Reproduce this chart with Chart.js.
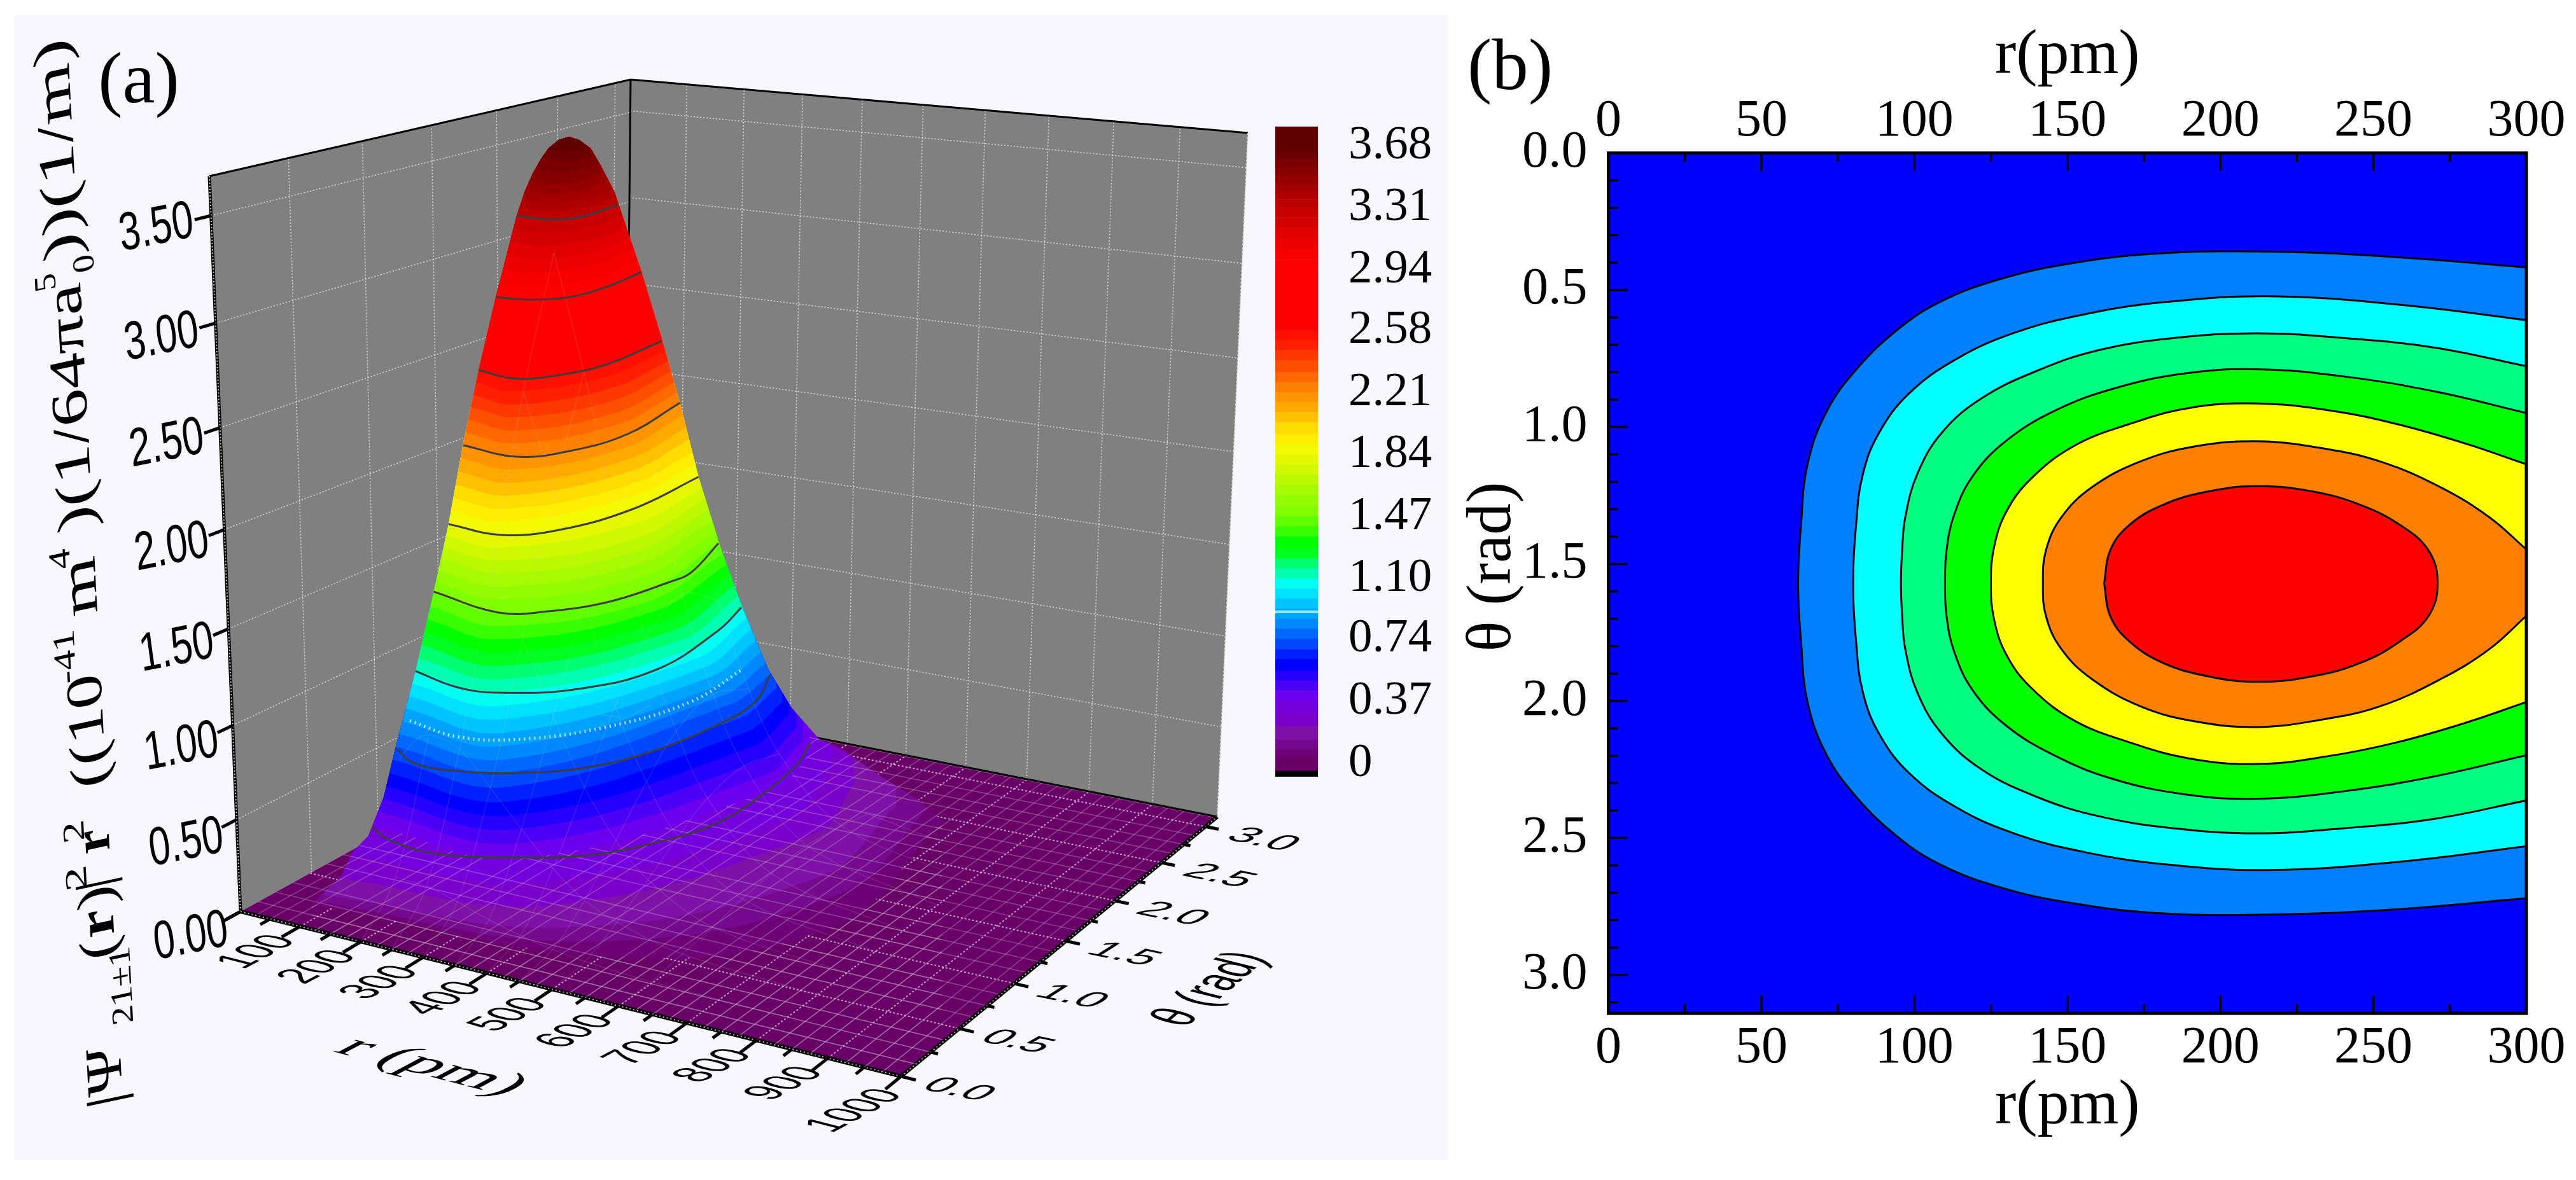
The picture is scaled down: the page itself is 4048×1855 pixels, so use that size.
<!DOCTYPE html>
<html>
<head>
<meta charset="utf-8">
<title>Psi 21 surface and contour</title>
<script src="https://cdn.jsdelivr.net/npm/chart.js@4/dist/chart.umd.min.js"></script>
<style>
  html, body { margin: 0; padding: 0; background: #fff; width: 4048px; height: 1855px; overflow: hidden; }
  #panelA { position: absolute; left: 22px; top: 24px; width: 2253px; height: 1800px; background: #f6f7ff; }
  canvas { position: absolute; }
  #surface { left: 22px; top: 24px; }
  #colorbar { left: 2004px; top: 109px; }
  #contour { left: 2275px; top: 0; }
</style>
</head>
<body>
<div id="panelA"></div>
<canvas id="surface" width="2253" height="1800"></canvas>
<canvas id="colorbar" width="266" height="1202"></canvas>
<canvas id="contour" width="1773" height="1855"></canvas>
<script>
// ---- panel (a): axis values
const rTicks = [100, 200, 300, 400, 500, 600, 700, 800, 900, 1000];
const rMinorTicks = [50, 150, 250, 350, 450, 550, 650, 750, 850, 950];
const thetaTicks = [0, 0.5, 1, 1.5, 2, 2.5, 3];
const thetaMinorTicks = [0.25, 0.75, 1.25, 1.75, 2.25, 2.75];
const zTicks = [0, 0.5, 1, 1.5, 2, 2.5, 3, 3.5];
const rMesh = [25, 50, 75, 125, 150, 175, 225, 250, 275, 325, 350, 375, 425, 450, 475, 525, 550, 575, 625, 650, 675, 725, 750, 775, 825, 850, 875, 925, 950, 975];
const thetaMesh = [0.125, 0.25, 0.375, 0.625, 0.75, 0.875, 1.125, 1.25, 1.375, 1.625, 1.75, 1.875, 2.125, 2.25, 2.375, 2.625, 2.75, 2.875, 3.125];
const rMax = 1000, thetaMax = 3.14, zMax = 3.68;

// projected corners of the 3D box
const cornerE = [378, 1433], cornerF = [1416, 1692], cornerD = [1913, 1284], cornerG = [981, 1100];
const cornerA = [329, 277], cornerB = [991, 125], cornerC = [1961, 209];
// wall height in picture units per z unit above each floor corner
const liftE = 314, liftF = 345, liftD = 292, liftG = 265;

// surface colour bands: z level, then its front arc as left / low / shoulder / right
const bandZ = [0.04, 0.08, 0.14, 0.22, 0.30, 0.37, 0.43, 0.49, 0.55, 0.62, 0.68, 0.74, 0.80, 0.86, 0.92, 0.98, 1.04, 1.10, 1.16, 1.22, 1.28, 1.35, 1.41, 1.47, 1.53, 1.60, 1.66, 1.72, 1.78, 1.84, 1.90, 1.96, 2.03, 2.09, 2.15, 2.21, 2.27, 2.33, 2.40, 2.46, 2.52, 2.58, 2.70, 2.82, 2.94, 3.00, 3.06, 3.12, 3.19, 3.25, 3.31, 3.36, 3.40, 3.45, 3.50, 3.55, 3.60, 3.64];
const bandColors = ['#6e0078', '#750a8e', '#7e12a8', '#7a00cc', '#7400de', '#6c00ee', '#4c00f6', '#2400ff', '#0000ff', '#0020ff', '#0048ff', '#0068ff', '#0088ff', '#00a4ff', '#00c4ff', '#00e0ff', '#00fff0', '#00ffb0', '#00ff70', '#00ff20', '#00ff00', '#38ff00', '#60ff00', '#80ff00', '#94fc00', '#a8fa00', '#bcf800', '#d0f800', '#e4f900', '#f4fb00', '#ffee00', '#ffdc00', '#ffc000', '#ffa800', '#ff9400', '#ff8000', '#ff6800', '#ff5000', '#ff3800', '#ff2000', '#ff1000', '#ff0000', '#ff0000', '#ff0000', '#ff0000', '#f80000', '#ee0000', '#e20000', '#d40000', '#c80000', '#bc0000', '#b00000', '#a40000', '#960000', '#880000', '#7a0000', '#6c0000', '#600000'];
const leftX = [490, 497, 510, 530, 555, 584, 590, 597, 603, 609, 615, 622, 627, 632, 638, 643, 648, 653, 657, 662, 667, 671, 676, 681, 685, 689, 693, 697, 701, 705, 709, 713, 716, 720, 724, 728, 732, 736, 740, 744, 748, 752, 761, 770, 779, 784, 790, 795, 801, 806, 812, 818, 824, 830, 836, 844, 852, 864];
const leftY = [1422, 1417, 1407, 1380, 1345, 1296, 1275, 1255, 1235, 1215, 1194, 1174, 1154, 1134, 1114, 1095, 1075, 1055, 1035, 1014, 994, 974, 953, 933, 915, 897, 878, 860, 842, 824, 803, 783, 762, 741, 720, 700, 680, 660, 640, 621, 601, 582, 544, 505, 467, 445, 424, 402, 381, 360, 339, 327, 315, 300, 285, 267, 248, 235];
const lowX = [986, 919, 885, 865, 840, 813, 810, 807, 803, 800, 797, 794, 792, 791, 789, 787, 785, 784, 784, 784, 784, 784, 784, 784, 784, 785, 785, 786, 787, 788, 792, 796, 800, 804, 808, 812, 811, 811, 810, 809, 808, 808, 815, 822, 829, 834, 840, 845, 851, 856, 862, 863, 865, 866, 868, 874, 880, 885];
const lowY = [1505, 1480, 1458, 1423, 1387, 1349, 1326, 1304, 1282, 1260, 1237, 1215, 1194, 1173, 1152, 1131, 1110, 1089, 1068, 1047, 1026, 1005, 984, 963, 942, 922, 901, 881, 861, 841, 820, 800, 779, 759, 738, 718, 697, 677, 656, 636, 615, 595, 554, 512, 471, 450, 429, 408, 387, 366, 345, 332, 320, 305, 290, 271, 252, 238];
const shoulderX = [1321, 1320, 1290, 1287, 1240, 1215, 1204, 1193, 1181, 1170, 1159, 1148, 1137, 1126, 1114, 1103, 1092, 1081, 1068, 1055, 1042, 1030, 1020, 1010, 1005, 1000, 998, 996, 995, 995, 992, 989, 987, 984, 981, 978, 974, 970, 966, 961, 957, 953, 948, 942, 937, 935, 934, 933, 931, 929, 928, 925, 923, 920, 918, 916, 915, 908];
const shoulderY = [1450, 1405, 1378, 1307, 1285, 1241, 1218, 1196, 1174, 1152, 1130, 1107, 1093, 1079, 1065, 1051, 1036, 1022, 1007, 992, 976, 960, 945, 930, 908, 888, 868, 848, 824, 800, 781, 762, 742, 723, 704, 685, 666, 648, 629, 610, 591, 573, 535, 496, 458, 437, 417, 397, 377, 356, 336, 324, 312, 298, 284, 267, 250, 236];
const rightX = [1480, 1462, 1408, 1341, 1310, 1272, 1261, 1251, 1240, 1230, 1220, 1210, 1202, 1195, 1187, 1180, 1172, 1165, 1159, 1153, 1147, 1141, 1135, 1129, 1125, 1120, 1115, 1110, 1106, 1101, 1095, 1090, 1085, 1080, 1074, 1069, 1064, 1059, 1054, 1050, 1045, 1040, 1030, 1020, 1010, 1004, 998, 992, 986, 980, 974, 968, 962, 956, 950, 943, 936, 925];
const rightY = [1290, 1267, 1267, 1233, 1200, 1186, 1165, 1144, 1123, 1103, 1082, 1061, 1043, 1026, 1008, 990, 972, 955, 938, 921, 904, 888, 871, 854, 836, 819, 801, 783, 766, 748, 729, 710, 690, 671, 652, 633, 617, 601, 584, 568, 552, 536, 500, 463, 427, 409, 391, 373, 356, 338, 321, 309, 298, 284, 270, 255, 240, 228];
const meshedBands = 5;

// contour lines on the surface, z = 0.37 upwards
const arc037X = [584, 611, 685, 818, 919, 1020, 1120, 1187, 1254, 1273];
const arc037Y = [1300, 1320, 1342, 1348, 1345, 1327, 1297, 1257, 1200, 1167];
const arc074X = [623, 651, 718, 818, 919, 1020, 1120, 1187, 1210];
const arc074Y = [1177, 1200, 1212, 1215, 1207, 1183, 1143, 1103, 1061];
const arc110X = [653, 717, 784, 909, 1033, 1129, 1165];
const arc110Y = [1055, 1080, 1089, 1083, 1052, 991, 955];
const arc147X = [681, 784, 861, 957, 1052, 1086, 1129];
const arc147Y = [930, 963, 961, 946, 915, 900, 854];
const arc184X = [705, 788, 879, 995, 1101];
const arc184Y = [824, 841, 833, 800, 748];
const arc221X = [728, 812, 895, 987, 1069];
const arc221Y = [700, 718, 709, 682, 633];
const arc258X = [752, 808, 870, 953, 1040];
const arc258Y = [582, 595, 591, 573, 536];
const arc294X = [779, 829, 895, 953, 1010];
const arc294Y = [467, 471, 467, 451, 427];
const arc331X = [812, 862, 912, 974];
const arc331Y = [339, 345, 341, 321];
const surfaceContours = [[arc037X, arc037Y], [arc074X, arc074Y], [arc110X, arc110Y], [arc147X, arc147Y], [arc184X, arc184Y], [arc221X, arc221Y], [arc258X, arc258Y], [arc294X, arc294Y], [arc331X, arc331Y]];

// outline of the surface as seen against the walls
const outlineX = [480, 490, 504, 537, 553, 579, 603, 622, 653, 681, 705, 728, 752, 779, 812, 825, 837, 850, 862, 878, 894, 910, 928, 945, 966, 985, 1007, 1040, 1069, 1098, 1132, 1165, 1207, 1244, 1287, 1321, 1388, 1440, 1480, 1480];
const outlineY = [1700, 1422, 1407, 1377, 1341, 1314, 1253, 1174, 1055, 933, 824, 697, 582, 467, 339, 300, 273, 250, 233, 220, 215, 220, 233, 262, 303, 360, 424, 533, 636, 751, 860, 951, 1052, 1113, 1162, 1177, 1223, 1255, 1290, 1700];
const speckleX = [644, 718, 818, 952, 1086, 1167];
const speckleY = [1133, 1158, 1162, 1143, 1103, 1052];

// height of the surface under the wire mesh: one row per theta, one column per r
const surfR = [50, 75, 100, 125, 150, 175, 200, 250, 300, 350, 400, 450, 500, 600];
const surfTheta = [0.25, 0.5, 0.75, 1, 1.25, 1.57, 1.89, 2.14, 2.39, 2.64, 2.89];
const surfZ = [
  [0.01, 0.05, 0.09, 0.14, 0.18, 0.21, 0.22, 0.21, 0.17, 0.12, 0.08, 0.05, 0.03, 0.01],
  [0.06, 0.18, 0.35, 0.53, 0.68, 0.79, 0.84, 0.80, 0.64, 0.47, 0.31, 0.19, 0.12, 0.04],
  [0.11, 0.36, 0.70, 1.07, 1.38, 1.59, 1.70, 1.61, 1.30, 0.94, 0.62, 0.39, 0.23, 0.07],
  [0.17, 0.55, 1.07, 1.63, 2.10, 2.43, 2.58, 2.46, 1.98, 1.44, 0.94, 0.59, 0.35, 0.11],
  [0.22, 0.69, 1.36, 2.07, 2.67, 3.09, 3.29, 3.12, 2.52, 1.83, 1.20, 0.76, 0.45, 0.14],
  [0.24, 0.77, 1.51, 2.30, 2.97, 3.43, 3.65, 3.47, 2.80, 2.03, 1.33, 0.84, 0.50, 0.16],
  [0.22, 0.69, 1.36, 2.07, 2.67, 3.09, 3.29, 3.12, 2.52, 1.83, 1.20, 0.76, 0.45, 0.14],
  [0.17, 0.55, 1.07, 1.63, 2.10, 2.43, 2.58, 2.46, 1.98, 1.44, 0.94, 0.59, 0.35, 0.11],
  [0.11, 0.36, 0.70, 1.07, 1.38, 1.59, 1.70, 1.61, 1.30, 0.94, 0.62, 0.39, 0.23, 0.07],
  [0.06, 0.18, 0.35, 0.53, 0.68, 0.79, 0.84, 0.80, 0.64, 0.47, 0.31, 0.19, 0.12, 0.04],
  [0.01, 0.05, 0.09, 0.14, 0.18, 0.21, 0.22, 0.21, 0.17, 0.12, 0.08, 0.05, 0.03, 0.01]
];

// ---- colour bar
const barTicks = [0, 0.37, 0.74, 1.10, 1.47, 1.84, 2.21, 2.58, 2.94, 3.31, 3.68];
const barLabels = ['0', '0.37', '0.74', '1.10', '1.47', '1.84', '2.21', '2.58', '2.94', '3.31', '3.68'];

// ---- panel (b): contour lines, r in pm and theta in rad
const rBottomTicks = [25, 50, 75, 100, 125, 150, 175, 200, 225, 250, 275];
const thetaLeftMinor = [0.1, 0.2, 0.3, 0.4, 0.6, 0.7, 0.8, 0.9, 1.1, 1.2, 1.3, 1.4, 1.6, 1.7, 1.8, 1.9, 2.1, 2.2, 2.3, 2.4, 2.6, 2.7, 2.8, 2.9, 3.1];
const thetaLeftMajor = [0.5, 1, 1.5, 2, 2.5, 3];
const contourColors = ['#0080ff', '#00ffff', '#00ff80', '#00ff00', '#ffff00', '#ff8000', '#ff0000'];
const line1R = [300, 255, 212, 178, 150, 128, 109, 95, 81, 71, 65, 63, 62, 63, 65, 71, 81, 95, 109, 128, 150, 178, 212, 255, 300];
const line1T = [0.417, 0.378, 0.359, 0.368, 0.405, 0.46, 0.54, 0.64, 0.79, 0.95, 1.14, 1.35, 1.571, 1.79, 2.0, 2.19, 2.35, 2.5, 2.6, 2.68, 2.735, 2.773, 2.78, 2.762, 2.72];
const line2R = [300, 260, 216, 181, 155, 133, 114, 98, 88, 83, 81, 80, 81, 83, 88, 98, 114, 133, 155, 181, 216, 260, 300];
const line2T = [0.61, 0.555, 0.523, 0.545, 0.59, 0.655, 0.75, 0.88, 1.03, 1.18, 1.35, 1.571, 1.79, 1.96, 2.11, 2.26, 2.39, 2.485, 2.55, 2.595, 2.617, 2.585, 2.53];
const line3R = [300, 270, 240, 212, 185, 160, 140, 122, 109, 101, 97, 96, 95.6, 96, 97, 101, 109, 122, 140, 160, 185, 212, 240, 270, 300];
const line3T = [0.778, 0.71, 0.675, 0.658, 0.675, 0.72, 0.795, 0.895, 1.02, 1.17, 1.33, 1.45, 1.571, 1.69, 1.81, 1.97, 2.12, 2.25, 2.35, 2.42, 2.465, 2.483, 2.465, 2.43, 2.363];
const line4R = [300, 270, 240, 212, 188, 165, 146, 130, 119, 113, 110.5, 110, 110.5, 113, 119, 130, 146, 165, 188, 212, 240, 270, 300];
const line4T = [0.949, 0.87, 0.815, 0.789, 0.805, 0.86, 0.94, 1.05, 1.18, 1.32, 1.45, 1.571, 1.69, 1.82, 1.96, 2.09, 2.20, 2.285, 2.34, 2.357, 2.33, 2.275, 2.198];
const line5R = [300, 280, 258, 236, 212, 190, 170, 152, 138, 130, 126, 125, 126, 130, 138, 152, 170, 190, 212, 236, 258, 280, 300];
const line5T = [1.136, 1.06, 0.99, 0.94, 0.914, 0.93, 0.99, 1.07, 1.19, 1.31, 1.44, 1.571, 1.70, 1.83, 1.95, 2.07, 2.15, 2.21, 2.23, 2.20, 2.15, 2.08, 2.004];
const line6R = [300, 288, 272, 252, 232, 212, 192, 174, 158, 148, 143, 142, 143, 148, 158, 174, 192, 212, 232, 252, 272, 288, 300];
const line6T = [1.447, 1.33, 1.22, 1.125, 1.075, 1.052, 1.07, 1.125, 1.22, 1.33, 1.45, 1.571, 1.69, 1.81, 1.92, 2.02, 2.075, 2.095, 2.07, 2.02, 1.92, 1.81, 1.689];
const line7R = [162, 164, 170, 181, 196, 212, 230, 246, 259, 268, 271, 268, 259, 246, 230, 212, 196, 181, 170, 164, 162];
const line7T = [1.571, 1.45, 1.36, 1.285, 1.235, 1.216, 1.235, 1.285, 1.36, 1.45, 1.571, 1.69, 1.78, 1.86, 1.91, 1.93, 1.91, 1.86, 1.78, 1.69, 1.571];
const contourLines = [[line1R, line1T], [line2R, line2T], [line3R, line3T], [line4R, line4T], [line5R, line5T], [line6R, line6T], [line7R, line7T]];

const SERIF = '"Liberation Serif"';
const SANS = '"Liberation Sans"';

// perspective map from the unit square onto one face of the box
function faceMap(p00, p10, p11, p01) {
  const dx1 = p10[0] - p11[0], dx2 = p01[0] - p11[0], sx = p00[0] - p10[0] + p11[0] - p01[0];
  const dy1 = p10[1] - p11[1], dy2 = p01[1] - p11[1], sy = p00[1] - p10[1] + p11[1] - p01[1];
  const den = dx1 * dy2 - dx2 * dy1;
  const g = (sx * dy2 - dx2 * sy) / den, h = (dx1 * sy - sx * dy1) / den;
  const a = p10[0] - p00[0] + g * p10[0], b = p01[0] - p00[0] + h * p01[0];
  const d = p10[1] - p00[1] + g * p10[1], e = p01[1] - p00[1] + h * p01[1];
  return (u, v) => {
    const w = g * u + h * v + 1;
    return { x: (a * u + b * v + p00[0]) / w, y: (d * u + e * v + p00[1]) / w };
  };
}
const leftFace = faceMap(cornerE, cornerG, cornerB, cornerA);
const rightFace = faceMap(cornerG, cornerD, cornerC, cornerB);
const floorFace = faceMap(cornerE, cornerF, cornerD, cornerG);
const onLeft = (t, z) => leftFace(t / thetaMax, z / zMax);
const onRight = (r, z) => rightFace(r / rMax, z / zMax);
const onFloor = (r, t) => floorFace(r / rMax, t / thetaMax);

function xy(p) { return { x: p[0], y: p[1] }; }

// a point on the surface, blanked when it sits on the far side of the hump
function onSurface(r, t, z) {
  const p = onFloor(r, t);
  const u = r / rMax, v = t / thetaMax;
  const lift = liftE * (1 - u) * (1 - v) + liftF * u * (1 - v) + liftD * u * v + liftG * (1 - u) * v;
  const y = p.y - z * lift;
  let band = -1;
  bandZ.forEach((b, i) => { if (b <= z) band = i; });
  if (band >= 0) {
    const f = (p.x - leftX[band]) / (rightX[band] - leftX[band]);
    const chord = leftY[band] + (rightY[band] - leftY[band]) * f;
    if (y < chord - 5) return { x: p.x, y: NaN };
  }
  return { x: p.x, y };
}

const surfaceSets = [];
function addLine(points, style) {
  surfaceSets.push(Object.assign({ data: points, showLine: true, pointRadius: 0, borderWidth: 2, borderColor: '#000', fill: false }, style));
}
function addFace(corners, color) {
  addLine(corners.map(xy), { fill: 'shape', backgroundColor: color, borderWidth: 0 });
}
const meshStyle = { borderColor: 'rgba(200,180,200,0.38)', borderWidth: 1.5 };
function addFloorMesh() {
  rMesh.forEach(r => addLine([onFloor(r, 0), onFloor(r, thetaMax)], meshStyle));
  thetaMesh.forEach(t => addLine([onFloor(0, t), onFloor(rMax, t)], meshStyle));
}

// walls
addFace([cornerE, cornerG, cornerB, cornerA], '#808080');
addFace([cornerG, cornerD, cornerC, cornerB], '#808080');
const wallGrid = { borderColor: 'rgba(255,255,255,0.75)', borderWidth: 1.5, borderDash: [2, 3] };
thetaTicks.slice(1).forEach(t => addLine([onLeft(t, 0), onLeft(t, zMax)], wallGrid));
zTicks.slice(1).forEach(z => addLine([onLeft(0, z), onLeft(thetaMax, z)], wallGrid));
rTicks.slice(0, -1).forEach(r => addLine([onRight(r, 0), onRight(r, zMax)], wallGrid));
zTicks.slice(1).forEach(z => addLine([onRight(0, z), onRight(rMax, z)], wallGrid));
addLine([cornerG, cornerB].map(xy), { borderWidth: 3 });
addLine([cornerA, cornerB, cornerC].map(xy), { borderWidth: 3 });
addLine([cornerC, cornerD].map(xy), { borderColor: '#dddddd', borderWidth: 2, borderDash: [3, 3] });
addLine([cornerA, cornerE].map(xy), { borderWidth: 5 });
addLine([cornerA, cornerE].map(xy), { borderColor: '#cccccc', borderWidth: 2, borderDash: [2, 3] });

// floor
addFace([cornerE, cornerF, cornerD, cornerG], '#680068');
addFloorMesh();
const floorGrid = { borderColor: 'rgba(255,255,255,0.62)', borderWidth: 2, borderDash: [3, 3] };
rTicks.slice(0, -1).forEach(r => addLine([onFloor(r, 0), onFloor(r, thetaMax)], floorGrid));
thetaTicks.slice(1).forEach(t => addLine([onFloor(0, t), onFloor(rMax, t)], floorGrid));
addLine([cornerG, cornerD].map(xy), { borderWidth: 3 });

// front edges and ticks
const frontEdge = { borderWidth: 6 };
const frontDots = { borderColor: '#bbbbbb', borderWidth: 2, borderDash: [2, 4] };
addLine([cornerE, cornerF].map(xy), frontEdge);
addLine([cornerE, cornerF].map(xy), frontDots);
addLine([cornerF, cornerD].map(xy), frontEdge);
addLine([cornerF, cornerD].map(xy), frontDots);
const tickStyle = { borderWidth: 5 };
zTicks.forEach(z => addLine([onLeft(0, z), onLeft(-0.1, z)], tickStyle));
[0].concat(rTicks).forEach(r => addLine([onFloor(r, 0), onFloor(r, -0.13)], tickStyle));
rMinorTicks.forEach(r => addLine([onFloor(r, 0), onFloor(r, -0.07)], tickStyle));
thetaTicks.forEach(t => addLine([onFloor(rMax, t), onFloor(rMax + 20, t)], tickStyle));
thetaMinorTicks.forEach(t => addLine([onFloor(rMax, t), onFloor(rMax + 10, t)], tickStyle));
const lastBackground = surfaceSets.length - 1;

// colour bands of the surface, lowest first, then wire mesh and contour lines on top
function arcPoints(i) {
  return [
    { x: leftX[i], y: leftY[i] }, { x: lowX[i], y: lowY[i] },
    { x: shoulderX[i], y: shoulderY[i] }, { x: rightX[i], y: rightY[i] }
  ];
}
bandZ.forEach((z, i) => {
  addLine(arcPoints(i), { fill: 'end', backgroundColor: bandColors[i], borderWidth: 0, borderColor: bandColors[i], tension: 0.4 });
  if (i === meshedBands - 1) addFloorMesh();
});
const wireStyle = { borderColor: 'rgba(215,215,215,0.17)', borderWidth: 1.2, tension: 0.35 };
surfR.forEach((r, j) => {
  const pts = [onSurface(r, 0, 0)];
  surfTheta.forEach((t, i) => pts.push(onSurface(r, t, surfZ[i][j])));
  pts.push(onSurface(r, thetaMax, 0));
  addLine(pts, wireStyle);
});
surfTheta.forEach((t, i) => {
  const pts = [onSurface(0, t, 0)];
  surfR.forEach((r, j) => pts.push(onSurface(r, t, surfZ[i][j])));
  pts.push(onSurface(800, t, 0));
  addLine(pts, wireStyle);
});
addLine(speckleX.map((x, i) => ({ x, y: speckleY[i] })), { borderColor: 'rgba(255,255,255,0.75)', borderWidth: 5, borderDash: [2, 6], tension: 0.4 });
surfaceContours.forEach(arc => addLine(arc[0].map((x, i) => ({ x, y: arc[1][i] })), { borderColor: '#3c3c3c', borderWidth: 3, tension: 0.4 }));

// chart.js paints the highest order first
surfaceSets.forEach((d, i) => { d.order = surfaceSets.length - i; });

function skewText(ctx, text, x, y, m, font) {
  ctx.save();
  ctx.font = font;
  ctx.fillStyle = '#000';
  ctx.textAlign = 'center';
  ctx.textBaseline = 'middle';
  ctx.transform(m[0], m[1], m[2], m[3], x, y);
  ctx.fillText(text, 0, 0);
  ctx.restore();
}

// y title of panel (a): text, size factor, baseline shift, bold, where it starts and ends along the axis
const titleRuns = [
  ['|\u03A8', 1, 0, false, 1735, 1640], ['21\u00B11', 0.6, -0.28, false, 1612, 1491],
  ['(', 1, 0, false, 1503, 1470], ['r', 1, 0, true, 1468, 1425], [')', 1, 0, false, 1422, 1388], ['|', 1, 0, false, 1394, 1376],
  ['2', 0.6, 0.48, false, 1388, 1350], ['r', 1, 0, true, 1336, 1299], ['2', 0.6, 0.48, false, 1313, 1279],
  ['((10', 1, 0, false, 1233, 1055], ['-41', 0.6, 0.48, false, 1064, 980], ['m', 1, 0, false, 963, 872], ['4', 0.6, 0.48, false, 884, 852],
  [')(1/64\u03C0a', 1, 0, false, 829, 442], ['5', 0.6, 0.48, false, 447, 419], ['0', 0.6, -0.28, false, 430, 402], ['))(1/m)', 1, 0, false, 402, 57]
];
function drawTitle(ctx, X, Y) {
  const F = 82;
  titleRuns.forEach(run => {
    ctx.save();
    ctx.font = (run[3] ? 'bold ' : '') + (F * run[1]) + 'px ' + SERIF;
    ctx.fillStyle = '#000';
    ctx.textAlign = 'left';
    ctx.textBaseline = 'alphabetic';
    const sx = (run[4] - run[5]) / ctx.measureText(run[0]).width;
    const baseX = 190 - (1675 - run[4]) * 0.052;
    ctx.transform(-0.052 * sx, -0.9986 * sx, 0.98, -0.21, X(baseX), Y(run[4]));
    ctx.fillText(run[0], 0, -run[2] * F);
    ctx.restore();
  });
}

const surfacePlugin = {
  id: 'surfaceParts',
  afterDatasetDraw(chart, args) {
    if (args.meta.index !== lastBackground) return;
    const { ctx, scales: { x, y } } = chart;
    ctx.save();
    ctx.beginPath();
    outlineX.forEach((v, i) => {
      const px = x.getPixelForValue(v), py = y.getPixelForValue(outlineY[i]);
      if (i === 0) ctx.moveTo(px, py); else ctx.lineTo(px, py);
    });
    ctx.closePath();
    ctx.clip();
  },
  afterDatasetsDraw(chart) {
    chart.ctx.restore();
  },
  afterDraw(chart) {
    const { ctx, scales: { x, y } } = chart;
    const X = v => x.getPixelForValue(v), Y = v => y.getPixelForValue(v);
    const zFont = '85px ' + SANS;
    zTicks.forEach(z => {
      const p = onLeft(0, z), k = (3.5 - z) / 3.5;
      skewText(ctx, z.toFixed(2), X(p.x - 86 + 8 * k), Y(p.y + 21 + 20 * k), [0.70, -0.14, 0.136, 0.985], zFont);
    });
    rTicks.forEach(r => {
      const p = onFloor(r, 0), wide = r === 1000;
      skewText(ctx, String(r), X(p.x - (wide ? 72 : 67)), Y(p.y + (wide ? 54 : 40)), [0.61, -0.32, 0.85, 0.22], zFont);
    });
    thetaTicks.forEach(t => {
      const p = onFloor(rMax, t);
      skewText(ctx, t.toFixed(1), X(p.x + 90), Y(p.y + 21), [0.82, 0.17, -0.55, 0.35], zFont);
    });
    skewText(ctx, 'r (pm)', X(678), Y(1677), [1.2, 0.31, -0.85, 0.45], '90px ' + SERIF);
    skewText(ctx, '\u03B8 (rad)', X(1903), Y(1555), [0.46, -0.39, 0.92, 0.23], '96px ' + SANS);
    skewText(ctx, '(a)', X(218), Y(131), [1, 0, 0, 1], '115px ' + SERIF);
    drawTitle(ctx, X, Y);
  }
};

new Chart(document.getElementById('surface'), {
  type: 'scatter',
  data: { datasets: surfaceSets },
  options: {
    responsive: false,
    animation: false,
    layout: { padding: 0 },
    plugins: { legend: { display: false }, tooltip: { enabled: false } },
    scales: {
      x: { type: 'linear', min: 22, max: 2275, display: false },
      y: { type: 'linear', min: 24, max: 1824, reverse: true, display: false }
    }
  },
  plugins: [surfacePlugin]
});

// colour bar: one floating bar per band, the pale fleck near 0.9 goes on last
const barSets = [
  { data: [[-0.08, -0.046]], backgroundColor: '#000000' },
  { data: [[-0.046, bandZ[0]]], backgroundColor: '#680068' }
];
bandZ.forEach((z, i) => {
  barSets.push({ data: [[z, i + 1 < bandZ.length ? bandZ[i + 1] : 3.794]], backgroundColor: bandColors[i] });
});
barSets.unshift({ data: [[0.895, 0.91]], backgroundColor: '#90e8ff' });
new Chart(document.getElementById('colorbar'), {
  type: 'bar',
  data: { labels: ['z'], datasets: barSets },
  options: {
    responsive: false,
    animation: false,
    barPercentage: 1,
    categoryPercentage: 1,
    layout: { padding: { top: 90, bottom: 90 } },
    plugins: { legend: { display: false }, tooltip: { enabled: false } },
    scales: {
      x: { stacked: true, display: false },
      y: {
        position: 'right', min: -0.08, max: 3.794,
        grid: { display: false }, border: { display: false },
        afterBuildTicks(scale) { scale.ticks = barTicks.map(v => ({ value: v })); },
        afterFit(scale) { scale.width = 199; },
        ticks: {
          autoSkip: false, padding: 40, color: '#000',
          font: { family: SERIF, size: 75 },
          callback: (v, i) => barLabels[i]
        }
      }
    }
  }
});

// panel (b)
const contourSets = [{
  data: [{ x: 0, y: 0 }, { x: 300, y: 0 }, { x: 300, y: thetaMax }, { x: 0, y: thetaMax }],
  showLine: true, pointRadius: 0, borderWidth: 0, fill: 'shape', backgroundColor: '#0000ff'
}];
contourLines.forEach((line, i) => {
  contourSets.push({
    data: line[0].map((r, j) => ({ x: r, y: line[1][j] })),
    showLine: true, pointRadius: 0, borderWidth: 3, borderColor: '#000', tension: 0.4,
    fill: 'shape', backgroundColor: contourColors[i]
  });
});
contourSets.forEach((d, i) => { d.order = contourSets.length - i; });

const framePlugin = {
  id: 'frameTicks',
  afterDatasetsDraw(chart) {
    const { ctx, chartArea: a, scales: { x, y } } = chart;
    ctx.save();
    ctx.strokeStyle = '#000';
    ctx.lineWidth = 3.5;
    ctx.beginPath();
    rBottomTicks.forEach(v => {
      const len = v % 50 === 0 ? 28 : 14, px = x.getPixelForValue(v);
      ctx.moveTo(px, a.top); ctx.lineTo(px, a.top + len);
      ctx.moveTo(px, a.bottom); ctx.lineTo(px, a.bottom - len);
    });
    thetaLeftMajor.forEach(v => {
      const py = y.getPixelForValue(v);
      ctx.moveTo(a.left, py); ctx.lineTo(a.left + 30, py);
    });
    thetaLeftMinor.forEach(v => {
      const py = y.getPixelForValue(v);
      ctx.moveTo(a.left, py); ctx.lineTo(a.left + 15, py);
    });
    ctx.stroke();
    ctx.lineWidth = 5;
    ctx.strokeRect(a.left, a.top, a.right - a.left, a.bottom - a.top);
    ctx.fillStyle = '#000';
    ctx.textAlign = 'center';
    ctx.textBaseline = 'middle';
    ctx.font = '115px ' + SERIF;
    ctx.fillText('(b)', 98, 110);
    ctx.translate(72, 891);
    ctx.rotate(-Math.PI / 2);
    ctx.font = '100px ' + SERIF;
    ctx.fillText('\u03B8 (rad)', 0, 0);
    ctx.restore();
  }
};

const tickFont = { family: SERIF, size: 82 };
new Chart(document.getElementById('contour'), {
  type: 'scatter',
  data: { datasets: contourSets },
  options: {
    responsive: false,
    animation: false,
    layout: { padding: { right: 78 } },
    plugins: { legend: { display: false }, tooltip: { enabled: false } },
    scales: {
      x: {
        type: 'linear', position: 'bottom', min: 0, max: 300,
        grid: { display: false, drawTicks: false }, border: { display: false },
        afterFit(scale) { scale.height = 262; },
        ticks: { stepSize: 50, padding: 6, color: '#000', font: tickFont, maxRotation: 0 },
        title: { display: true, text: 'r(pm)', color: '#000', font: { family: SERIF, size: 100 }, padding: { top: 0, bottom: 55 } }
      },
      xTop: {
        type: 'linear', axis: 'x', position: 'top', min: 0, max: 300,
        grid: { display: false, drawTicks: false }, border: { display: false },
        afterFit(scale) { scale.height = 240.6; },
        ticks: { stepSize: 50, padding: 0, color: '#000', font: tickFont, maxRotation: 0 },
        title: { display: true, text: 'r(pm)', color: '#000', font: { family: SERIF, size: 100 }, padding: { top: 29, bottom: 0 } }
      },
      y: {
        type: 'linear', position: 'left', min: 0, max: thetaMax, reverse: true,
        grid: { display: false, drawTicks: false }, border: { display: false },
        afterFit(scale) { scale.width = 252.5; },
        ticks: { stepSize: 0.5, includeBounds: false, padding: 33, color: '#000', font: tickFont, callback: v => v.toFixed(1) }
      }
    }
  },
  plugins: [framePlugin]
});
</script>
</body>
</html>
